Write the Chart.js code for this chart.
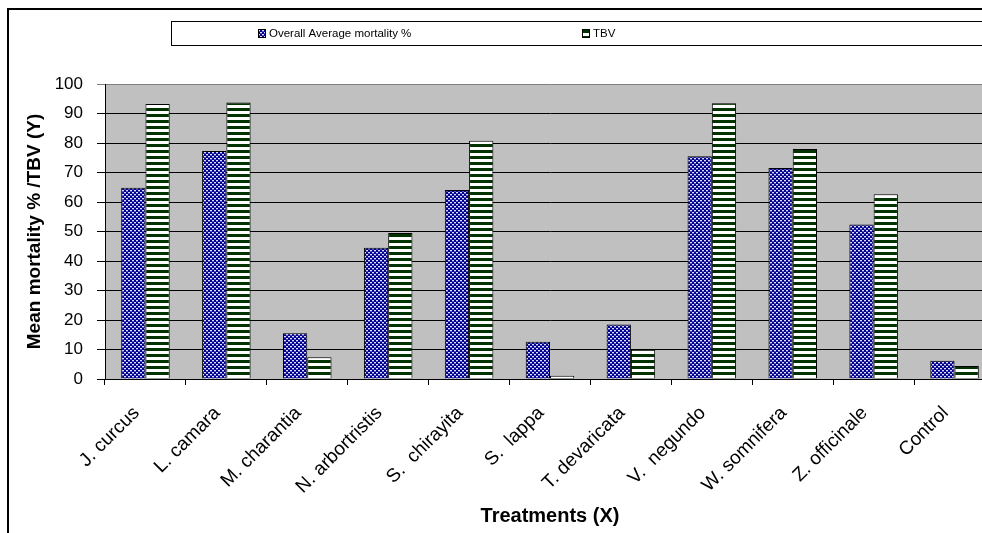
<!DOCTYPE html>
<html>
<head>
<meta charset="utf-8">
<script src="https://cdn.jsdelivr.net/npm/chart.js@4"></script>
<style>
  html, body { margin: 0; padding: 0; background: #fff; overflow: hidden; }
  #wrap { width: 1000px; height: 533px; }
</style>
</head>
<body>
<div id="wrap"><canvas id="myChart" width="1000" height="533"></canvas></div>
<script>
const treatments = ["J. curcus", "L. camara", "M. charantia", "N. arbortristis", "S.  chirayita",
  "S.  lappa", "T. devaricata", "V.  negundo", "W. somnifera", "Z. officinale", "Control"];
const mortality = [64.8, 77.3, 15.5, 44.5, 64.1, 12.6, 18.5, 75.5, 71.5, 52.4, 6.2];
const tbv = [93.2, 93.7, 7.4, 49.5, 80.8, 1.1, 10, 93.5, 78, 62.6, 4.4];
const yTicks = [0, 10, 20, 30, 40, 50, 60, 70, 80, 90, 100];

const FONT = "'Liberation Sans', Arial, sans-serif";

// motifs type Excel : points bleus et rayures vertes
function dotPattern() {
  const c = document.createElement("canvas");
  c.width = 4; c.height = 4;
  const g = c.getContext("2d");
  g.fillStyle = "#00008a";
  g.fillRect(0, 0, 4, 4);
  g.fillStyle = "#dcdcff";
  g.fillRect(0, 0, 2, 1);
  g.fillRect(2, 2, 2, 1);
  g.fillStyle = "#5050c0";
  g.fillRect(0, 1, 2, 1);
  g.fillRect(2, 3, 2, 1);
  return g.createPattern(c, "repeat");
}

function stripePattern() {
  const c = document.createElement("canvas");
  c.width = 1; c.height = 6;
  const g = c.getContext("2d");
  g.fillStyle = "#ffffff";
  g.fillRect(0, 0, 1, 6);
  g.fillStyle = "#003300";
  g.fillRect(0, 0, 1, 3);
  return g.createPattern(c, "repeat");
}

const blue = dotPattern();
const green = stripePattern();

const frame = {
  id: "frame",
  beforeDraw(chart) {
    const { ctx, chartArea: a } = chart;
    ctx.save();
    ctx.fillStyle = "#c0c0c0";
    ctx.fillRect(a.left, a.top, a.right - a.left, a.bottom - a.top);
    ctx.restore();
  },
  afterDraw(chart) {
    const ctx = chart.ctx;
    ctx.save();
    // cadre extérieur
    ctx.strokeStyle = "#000";
    ctx.lineWidth = 2;
    ctx.beginPath();
    ctx.moveTo(8, 533);
    ctx.lineTo(8, 9);
    ctx.lineTo(1000, 9);
    ctx.stroke();
    // légende
    ctx.fillStyle = "#fff";
    ctx.fillRect(171, 21, 840, 24);
    ctx.lineWidth = 1;
    ctx.strokeStyle = "#000";
    ctx.strokeRect(171.5, 21.5, 840, 24);
    const items = [
      { x: 258, fill: blue, text: chart.data.datasets[0].label },
      { x: 582, fill: green, text: chart.data.datasets[1].label }
    ];
    ctx.font = "11.5px " + FONT;
    ctx.textBaseline = "middle";
    items.forEach((it) => {
      ctx.fillStyle = it.fill;
      ctx.fillRect(it.x, 29, 7, 8);
      ctx.strokeRect(it.x + 0.5, 29.5, 7, 8);
      ctx.fillStyle = "#000";
      ctx.fillText(it.text, it.x + 11, 33.5);
    });
    ctx.restore();
  }
};

const chart = new Chart(document.getElementById("myChart"), {
  type: "bar",
  data: {
    labels: treatments,
    datasets: [
      {
        label: "Overall Average mortality %",
        data: mortality,
        backgroundColor: blue,
        borderColor: "#000",
        borderWidth: 1,
        categoryPercentage: 0.6,
        barPercentage: 1
      },
      {
        label: "TBV",
        data: tbv,
        backgroundColor: green,
        borderColor: "#000",
        borderWidth: 1,
        categoryPercentage: 0.6,
        barPercentage: 1
      }
    ]
  },
  options: {
    responsive: false,
    animation: false,
    layout: { padding: { top: 84, left: 0, right: 5, bottom: 0 } },
    scales: {
      x: {
        offset: true,
        grid: { drawOnChartArea: false, color: "#000", tickLength: 6, offset: true },
        border: { color: "#000" },
        ticks: {
          color: "#000",
          font: { family: FONT, size: 19 },
          minRotation: 45,
          maxRotation: 45,
          autoSkip: false,
          labelOffset: -9,
          padding: 17
        },
        title: {
          display: true,
          text: "Treatments (X)",
          color: "#000",
          font: { family: FONT, size: 20, weight: "bold" },
          padding: { top: 0, bottom: 5 }
        },
        afterFit(scale) { scale.height = 154; }
      },
      y: {
        min: 0,
        max: 100,
        afterBuildTicks(scale) { scale.ticks = yTicks.map((v) => ({ value: v })); },
        grid: {
          color: (c) => (c.tick && c.tick.value === 100 ? "#808080" : "#000"),
          tickLength: 8
        },
        border: { color: "#000" },
        ticks: {
          color: "#000",
          font: { family: FONT, size: 17 },
          padding: 14
        },
        title: {
          display: true,
          text: "Mean mortality % /TBV (Y)",
          color: "#000",
          font: { family: FONT, size: 19, weight: "bold" },
          padding: { top: 23, bottom: 0 }
        },
        afterFit(scale) { scale.width = 105; }
      }
    },
    plugins: {
      legend: { display: false },
      tooltip: { enabled: false }
    }
  },
  plugins: [frame]
});
</script>
</body>
</html>
